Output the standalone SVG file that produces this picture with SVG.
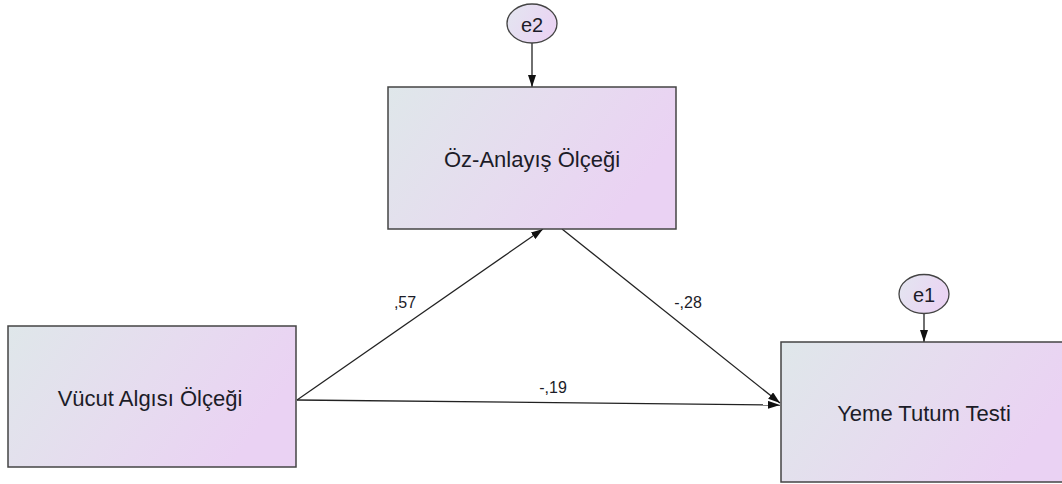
<svg xmlns="http://www.w3.org/2000/svg" width="1062" height="484" viewBox="0 0 1062 484">
  <defs>
    <linearGradient id="boxFill" x1="0" y1="0" x2="1" y2="0.35">
      <stop offset="0" stop-color="#dfe7ea"/>
      <stop offset="0.55" stop-color="#e6dcef"/>
      <stop offset="1" stop-color="#ead2f3"/>
    </linearGradient>
    <linearGradient id="ellFill" x1="0" y1="0" x2="1" y2="0.4">
      <stop offset="0" stop-color="#e3e6f0"/>
      <stop offset="1" stop-color="#ead4f3"/>
    </linearGradient>
    <marker id="arrow" viewBox="0 0 12 8" refX="12" refY="4" markerWidth="12" markerHeight="8" markerUnits="userSpaceOnUse" orient="auto">
      <path d="M0,0 L12,4 L0,8 Z" fill="#111"/>
    </marker>
  </defs>
  <style>
    .box { fill: url(#boxFill); stroke: #444; stroke-width: 1.5; }
    .err { fill: url(#ellFill); stroke: #444; stroke-width: 1.3; }
    .lbl { font-family: "Liberation Sans", Arial, sans-serif; font-size: 22px; fill: #1c1c28; text-anchor: middle; }
    .elbl { font-family: "Liberation Sans", Arial, sans-serif; font-size: 20px; fill: #1c1c28; text-anchor: middle; }
    .wt { font-family: "Liberation Sans", Arial, sans-serif; font-size: 16px; fill: #1c1c28; text-anchor: middle; }
    .edge { stroke: #222; stroke-width: 1.3; fill: none; marker-end: url(#arrow); }
  </style>
  <rect width="1062" height="484" fill="#ffffff"/>

  <g id="connectors">
    <line class="edge" x1="532" y1="43" x2="532" y2="87"/>
    <line class="edge" x1="924" y1="314" x2="924" y2="342"/>
    <line class="edge" x1="297" y1="400" x2="543" y2="229"/>
    <line class="edge" x1="562" y1="229" x2="780" y2="403"/>
    <line class="edge" x1="297" y1="400" x2="780" y2="405"/>
    <text class="wt" x="405" y="308">,57</text>
    <text class="wt" x="688" y="308">-,28</text>
    <text class="wt" x="553" y="393">-,19</text>
  </g>

  <g id="oz-anlayis">
    <rect class="box" x="388" y="87" width="288" height="142"/>
    <text class="lbl" x="532" y="167">Öz-Anlayış Ölçeği</text>
  </g>

  <g id="e2">
    <ellipse class="err" cx="532" cy="23.5" rx="25" ry="19.5"/>
    <text class="elbl" x="532" y="32">e2</text>
  </g>

  <g id="vucut-algisi">
    <rect class="box" x="8" y="326" width="288" height="141"/>
    <text class="lbl" x="150" y="406">Vücut Algısı Ölçeği</text>
  </g>

  <g id="yeme-tutum">
    <rect class="box" x="781" y="342" width="288" height="140"/>
    <text class="lbl" x="924" y="421">Yeme Tutum Testi</text>
  </g>

  <g id="e1">
    <ellipse class="err" cx="924" cy="294" rx="25" ry="19.5"/>
    <text class="elbl" x="924" y="302">e1</text>
  </g>
</svg>
